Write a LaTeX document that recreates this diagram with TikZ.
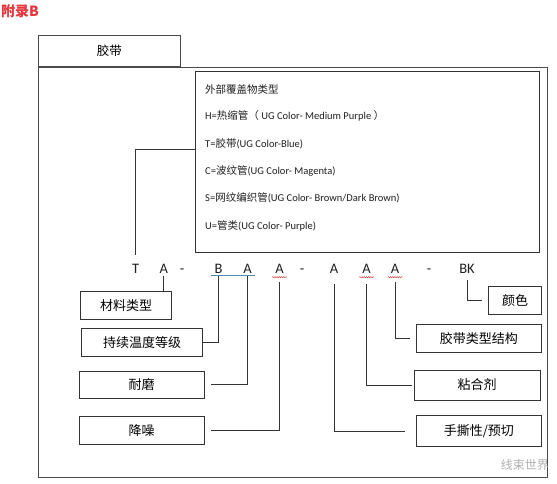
\documentclass[tikz,border=0pt]{standalone}
\usepackage{fontspec}
\setmainfont{Carlito}
\newfontfamily\cn{Noto Sans CJK SC}
\usetikzlibrary{positioning,decorations.pathmorphing}
\definecolor{ink}{HTML}{333333}
\definecolor{framegray}{HTML}{4A4A4A}
\definecolor{titlered}{HTML}{E8333B}
\definecolor{ulblue}{HTML}{4F8CAB}
\definecolor{spellred}{HTML}{D9403A}
\definecolor{markgray}{HTML}{B0B0B0}
\tikzset{
  framebox/.style={draw=framegray,line width=1pt,inner sep=0pt},
  tabbox/.style={draw=framegray,line width=1pt,inner sep=0pt,
                 font=\cn\fontsize{12.5}{15}\selectfont},
  coverbox/.style={draw=ink,line width=0.9pt,inner sep=0pt},
  covertext/.style={anchor=west,inner sep=0pt,text=ink!60!black,
                    font=\fontsize{10.5}{12}\selectfont},
  labelbox/.style={draw=ink,line width=0.8pt,inner sep=0pt,
                   font=\cn\fontsize{13}{15}\selectfont},
  codeletter/.style={anchor=base,inner sep=3pt,text=ink!60!black,
                     font=\fontsize{14.5}{17}\selectfont},
  link/.style={draw=ink,line width=0.8pt},
  dblline/.style={draw=ulblue,line width=0.7pt,double=white,
                  double distance=0.8pt},
  squiggle/.style={draw=spellred,line width=0.5pt,decorate,
                   decoration={snake,amplitude=0.6pt,segment length=2.2pt}}
}
\begin{document}
\begin{tikzpicture}[x=1pt,y=-1pt]
  \useasboundingbox (0,0) rectangle (557,483);
  \node[font=\cn\bfseries\fontsize{14}{16}\selectfont,text=titlered,
        anchor=west,inner sep=0pt] (title) at (1,11.5) {附录B};
  % frame and tab
  \node[framebox,minimum width=509.5,minimum height=410] (frame)
    at (292.75,272) {};
  \node[tabbox,anchor=south west,minimum width=142.7,minimum height=30.6]
    (tab) at (frame.north west) {胶带};
  % cover type box
  \node[coverbox,minimum width=344,minimum height=181] (cover)
    at (367.7,161.5) {};
  \node[covertext] (cv0) at (205,89) {{\cn 外部覆盖物类型}};
  \node[covertext] (cvh) at (205,116.3)
    {H={\cn 热缩管（} UG Color- Medium Purple {\cn ）}};
  \node[covertext] (cvt) at (205,143.6) {T={\cn 胶带}(UG Color-Blue)};
  \node[covertext] (cvc) at (205,170.9) {C={\cn 波纹管}(UG Color- Magenta)};
  \node[covertext] (cvs) at (205,198.2)
    {S={\cn 网纹编织管}(UG Color- Brown/Dark Brown)};
  \node[covertext] (cvu) at (205,225.5) {U={\cn 管类}(UG Color- Purple)};
  % code letters
  \node[codeletter] (ct)    at (135.7,273) {T};
  \node[codeletter] (ca1)   at (163.8,273) {A};
  \node[codeletter] (dash1) at (182,273)   {-};
  \node[codeletter] (cb)    at (218.5,273) {B};
  \node[codeletter] (ca2)   at (247.5,273) {A};
  \node[codeletter] (ca3)   at (279.5,273) {A};
  \node[codeletter] (dash2) at (302,273)   {-};
  \node[codeletter] (ca4)   at (334,273)   {A};
  \node[codeletter] (ca5)   at (366.5,273) {A};
  \node[codeletter] (ca6)   at (395,273)   {A};
  \node[codeletter] (dash3) at (429,273)   {-};
  \node[codeletter] (cbk)   at (467,273)   {BK};
  \draw[dblline] (cb.south west) -- (ca2.south east);
  \draw[squiggle] ([yshift=-1]ca3.south west) -- ([yshift=-1]ca3.south east);
  \draw[squiggle] ([yshift=-1]ca5.south west) -- ([yshift=-1]ca5.south east);
  \draw[squiggle] ([yshift=-1]ca6.south west) -- ([yshift=-1]ca6.south east);
  % label boxes
  \node[labelbox,minimum width=91,minimum height=27.3] (mat)
    at (126.2,305.3) {材料类型};
  \node[labelbox,minimum width=121,minimum height=27.7] (temp)
    at (142.2,342.2) {持续温度等级};
  \node[labelbox,minimum width=125.3,minimum height=27.3] (wear)
    at (141.7,384.7) {耐磨};
  \node[labelbox,minimum width=125.3,minimum height=27.6] (noise)
    at (141.7,430.5) {降噪};
  \node[labelbox,minimum width=53.4,minimum height=27.6] (color)
    at (515,300.5) {颜色};
  \node[labelbox,minimum width=125.7,minimum height=28] (struct)
    at (478.8,338.3) {胶带类型结构};
  \node[labelbox,minimum width=125.7,minimum height=30] (adhes)
    at (477.2,385) {粘合剂};
  \node[labelbox,minimum width=125.7,minimum height=31] (tear)
    at (478.8,431.2) {手撕性/预切};
  % connectors
  \draw[link] ([yshift=6]ct.north) |- ([yshift=12.5]cover.west);
  \draw[link] (ca1.south) -- (ca1.south |- mat.north);
  \draw[link] (cb.south) |- (temp.east);
  \draw[link] (ca2.south) |- ([xshift=6]wear.east);
  \draw[link] ([yshift=-6]ca3.south) |- ([xshift=6]noise.east);
  \draw[link] ([yshift=-8]ca4.south) |- ([xshift=-11]tear.west);
  \draw[link] ([yshift=-8]ca5.south) |- ([xshift=-2]adhes.west);
  \draw[link] ([yshift=-6]ca6.south) |- ([xshift=-6]struct.west);
  \draw[link] ([yshift=-4]cbk.south) |- ([xshift=-6]color.west);
  \node[font=\cn\fontsize{12}{14}\selectfont,text=markgray,anchor=east,
        inner sep=0pt] (mark) at (549,465) {线束世界};
\end{tikzpicture}
\end{document}
